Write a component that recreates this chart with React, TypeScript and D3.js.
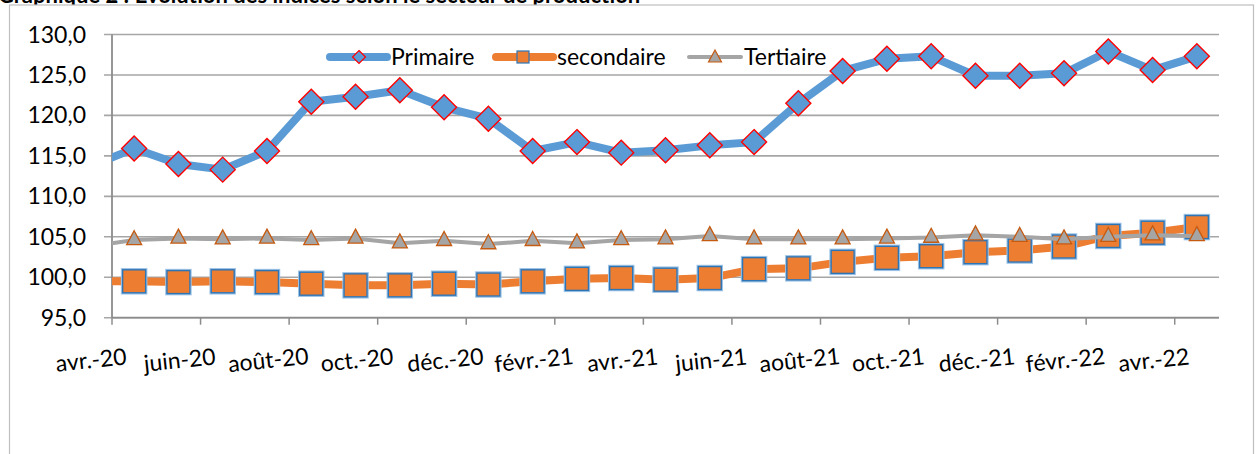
import React from "react";
import * as d3 from "d3";

const months = [
  "avr.-20", "mai-20", "juin-20", "juil.-20", "août-20", "sept.-20", "oct.-20",
  "nov.-20", "déc.-20", "janv.-21", "févr.-21", "mars-21", "avr.-21", "mai-21",
  "juin-21", "juil.-21", "août-21", "sept.-21", "oct.-21", "nov.-21", "déc.-21",
  "janv.-22", "févr.-22", "mars-22", "avr.-22",
];

const primaire = [
  115.9, 114.0, 113.3, 115.6, 121.7, 122.3, 123.1, 121.0, 119.6, 115.6, 116.7,
  115.4, 115.7, 116.3, 116.7, 121.5, 125.5, 127.0, 127.3, 124.9, 124.9, 125.2,
  127.9, 125.6, 127.3,
];
const secondaire = [
  99.5, 99.4, 99.5, 99.4, 99.2, 99.0, 99.0, 99.2, 99.1, 99.5, 99.8, 99.9, 99.7,
  99.9, 101.0, 101.1, 101.9, 102.4, 102.6, 103.1, 103.3, 103.8, 105.1, 105.5,
  106.2,
];
const tertiaire = [
  104.6, 104.8, 104.7, 104.8, 104.6, 104.8, 104.2, 104.5, 104.1, 104.5,
  104.2, 104.6, 104.7, 105.1, 104.7, 104.7, 104.7, 104.8, 104.9, 105.2,
  105.0, 104.7, 105.0, 105.2, 105.1,
];
// mars-20 : point hors du cadre, seul le bout de ligne est visible à gauche
const primairePrev = 113.7;
const secondairePrev = 99.5;
const tertiairePrev = 103.8;

const yTicks = [95, 100, 105, 110, 115, 120, 125, 130];

const W = 1257;
const H = 454;
const FONT = "Lato, 'Noto Sans', sans-serif";
const GRID = "#a6a6a6";

const BLUE = "#5b9bd5";
const ORANGE = "#ed7d31";
const GREY = "#a5a5a5";

const diamond = (r: number) => `M0,${-r}L${r},0L0,${r}L${-r},0Z`;
const triangle = (w: number, h: number) =>
  `M0,${(-h * 2) / 3}L${w / 2},${h / 3}L${-w / 2},${h / 3}Z`;

export default function App() {
  const x = d3.scaleBand<string>().domain(months).range([112, 1219]);
  const bw = x.bandwidth();
  const cx = (m: string) => (x(m) as number) + bw / 2;
  const y = d3.scaleLinear().domain([95, 130]).range([317.7, 34.5]);

  const line = d3
    .line<[number, number]>()
    .x((d) => d[0])
    .y((d) => d[1]);

  const pts = (prev: number, vals: number[]): [number, number][] => [
    [cx(months[0]) - bw, y(prev)],
    ...vals.map((v, i) => [cx(months[i]), y(v)] as [number, number]),
  ];

  const fmt = (v: number) => d3.format(".1f")(v).replace(".", ",");
  const tickMonths = months.filter((_, i) => i % 2 === 0);

  return (
    <svg
      width={W}
      height={H}
      style={{ position: "absolute", left: 0, top: 0, background: "#fff" }}
      fontFamily={FONT}
    >
      <defs>
        <clipPath id="plot">
          <rect x={112} y={0} width={1219 - 112} height={H} />
        </clipPath>
      </defs>
      <rect width={W} height={H} fill="#fff" />

      {/* titre coupé en haut */}
      <text x={-2} y={2.5} fontSize={22} fontWeight="bold" fill="#000">
        Graphique 2 : Evolution des indices selon le secteur de production
      </text>

      {/* cadre du graphique */}
      <rect x={9.5} y={5} width={1244} height={H} fill="#fff" stroke="#bfbfbf" strokeWidth={1.2} />

      {/* grille */}
      {yTicks.map((t) => (
        <g key={t}>
          <line x1={104} x2={1219} y1={y(t)} y2={y(t)} stroke={GRID} strokeWidth={1.6} />
          <text x={86} y={y(t)} dy="0.35em" textAnchor="end" fontSize={23} fill="#000">
            {fmt(t)}
          </text>
        </g>
      ))}
      {/* axes */}
      <line x1={112} x2={112} y1={y(130)} y2={y(95)} stroke="#8c8c8c" strokeWidth={1.8} />
      <line x1={112} x2={1219} y1={y(95)} y2={y(95)} stroke="#8c8c8c" strokeWidth={1.8} />
      {tickMonths.map((m) => (
        <g key={m}>
          <line x1={x(m)} x2={x(m)} y1={y(95)} y2={y(95) + 7} stroke="#8c8c8c" strokeWidth={1.5} />
          <text
            transform={`translate(${(x(m) as number) - 20},${368}) rotate(-6)`}
            textAnchor="middle"
            fontSize={23}
            fill="#000"
          >
            {m}
          </text>
        </g>
      ))}

      {/* Primaire */}
      <g>
        <path
          d={line(pts(primairePrev, primaire)) as string}
          fill="none"
          stroke={BLUE}
          strokeWidth={8}
          strokeLinejoin="round"
          clipPath="url(#plot)"
        />
        {primaire.map((v, i) => (
          <path
            key={i}
            d={diamond(12.5)}
            transform={`translate(${cx(months[i])},${y(v)})`}
            fill={BLUE}
            stroke="#ff0000"
            strokeWidth={1.4}
          />
        ))}
      </g>

      {/* secondaire */}
      <g>
        <path
          d={line(pts(secondairePrev, secondaire)) as string}
          fill="none"
          stroke={ORANGE}
          strokeWidth={8}
          strokeLinejoin="round"
          clipPath="url(#plot)"
        />
        {secondaire.map((v, i) => (
          <g key={i} transform={`translate(${cx(months[i])},${y(v)})`}>
            <rect x={-12.5} y={-12.5} width={25} height={25} fill="none" stroke="#9dc3e6" strokeWidth={1.5} />
            <rect x={-11.5} y={-11.5} width={23} height={23} fill={ORANGE} stroke="#2e75b6" strokeWidth={1.4} />
          </g>
        ))}
      </g>

      {/* Tertiaire */}
      <g>
        <path
          d={line(pts(tertiairePrev, tertiaire)) as string}
          fill="none"
          stroke={GREY}
          strokeWidth={4}
          strokeLinejoin="round"
          clipPath="url(#plot)"
        />
        {tertiaire.map((v, i) => (
          <path
            key={i}
            d={triangle(15, 14)}
            transform={`translate(${cx(months[i])},${y(v)})`}
            fill={GREY}
            stroke="#c55a11"
            strokeWidth={1.3}
          />
        ))}
      </g>

      {/* légende */}
      <g transform="translate(0,57)">
        <line x1={330} x2={387} y1={0} y2={0} stroke={BLUE} strokeWidth={8} strokeLinecap="round" />
        <path d={diamond(6.5)} transform="translate(359,0)" fill={BLUE} stroke="#ff0000" strokeWidth={1.2} />
        <text x={391} dy="0.35em" fontSize={23} fill="#000">Primaire</text>

        <line x1={496} x2={553} y1={0} y2={0} stroke={ORANGE} strokeWidth={8} strokeLinecap="round" />
        <rect x={517} y={-6} width={12} height={12} fill={ORANGE} stroke="#2e75b6" strokeWidth={1.2} />
        <text x={557} dy="0.35em" fontSize={23} fill="#000">secondaire</text>

        <line x1={689} x2={741} y1={0} y2={0} stroke={GREY} strokeWidth={4} strokeLinecap="round" />
        <path d={triangle(13, 12)} transform="translate(715,1)" fill={GREY} stroke="#c55a11" strokeWidth={1.2} />
        <text x={744} dy="0.35em" fontSize={23} fill="#000">Tertiaire</text>
      </g>
    </svg>
  );
}
